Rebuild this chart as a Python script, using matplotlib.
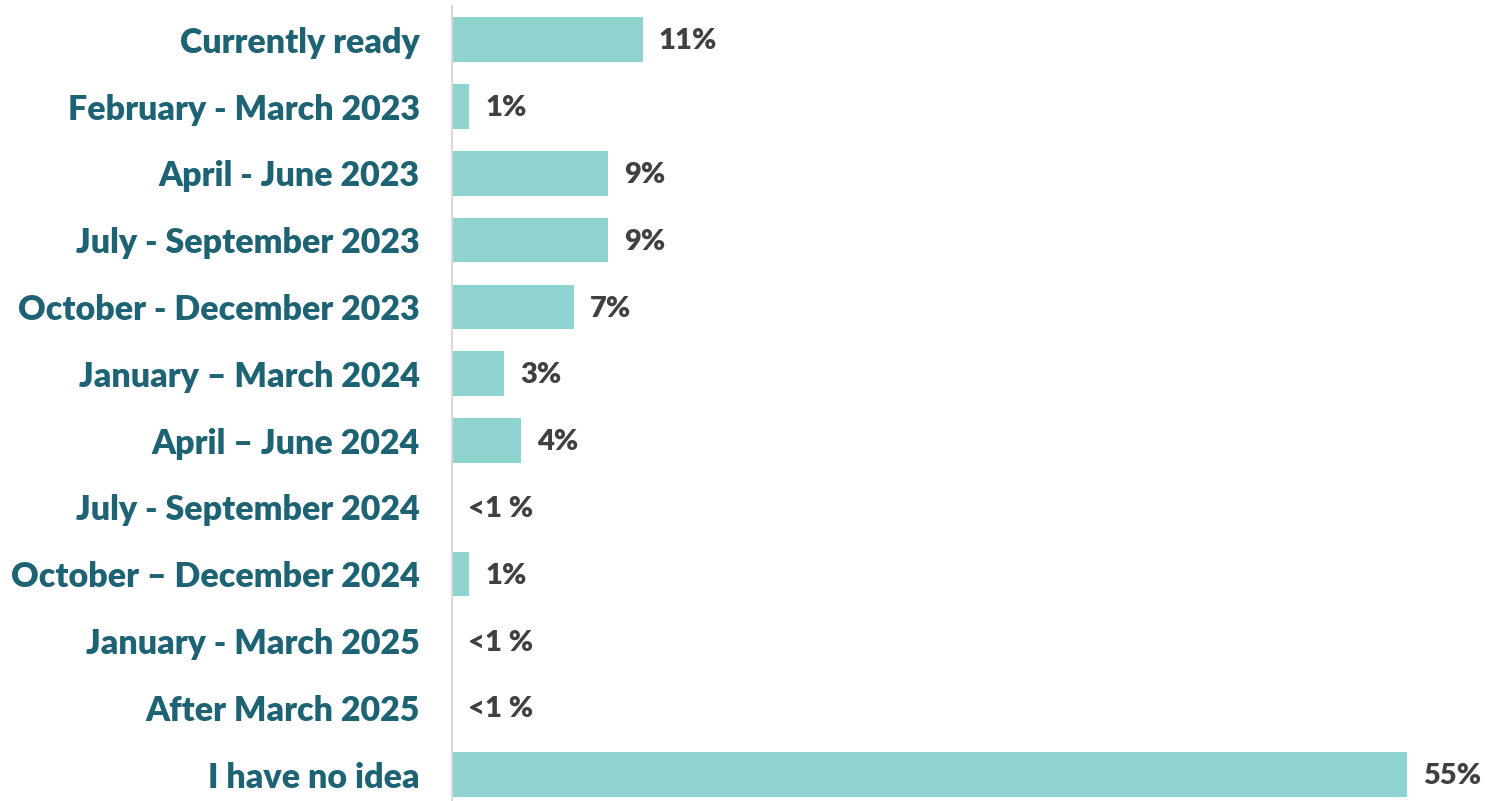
import matplotlib.pyplot as plt

# ── Data ────────────────────────────────────────────────────────────────────
categories = [
    "Currently ready",
    "February - March 2023",
    "April - June 2023",
    "July - September 2023",
    "October - December 2023",
    "January \u2013 March 2024",
    "April \u2013 June 2024",
    "July - September 2024",
    "October \u2013 December 2024",
    "January - March 2025",
    "After March 2025",
    "I have no idea",
]
values = [11, 1, 9, 9, 7, 3, 4, 0, 1, 0, 0, 55]
value_labels = ["11%", "1%", "9%", "9%", "7%", "3%", "4%", "<1 %", "1%", "<1 %", "<1 %", "55%"]

BAR_COLOR = "#8fd3d1"
LABEL_COLOR = "#1e6374"
VALUE_COLOR = "#404040"

plt.rcParams["font.family"] = ["Lato", "DejaVu Sans"]

# ── Figure ──────────────────────────────────────────────────────────────────
W, H = 1506, 801
fig = plt.figure(figsize=(W / 100, H / 100), dpi=100)
left, right, top, bottom = 452, 1407, 6.3, 808
ax = fig.add_axes([left / W, 1 - bottom / H, (right - left) / W, (bottom - top) / H])

y = range(len(categories))
ax.barh(y, values, height=0.666, color=BAR_COLOR)
ax.set_xlim(0, 55)
ax.set_ylim(len(categories) - 0.5, -0.5)

for yi, v, lab in zip(y, values, value_labels):
    ax.annotate(lab, (v, yi), xytext=(11.5, -1.2), textcoords="offset points",
                ha="left", va="center", fontsize=21, fontweight="heavy",
                color=VALUE_COLOR, annotation_clip=False)

ax.set_yticks(list(y))
ax.set_yticklabels(categories, fontsize=24.5, fontweight="heavy", color=LABEL_COLOR)
ax.tick_params(axis="y", length=0, pad=23)
ax.set_xticks([])

for s in ["top", "right", "bottom"]:
    ax.spines[s].set_visible(False)
ax.spines["left"].set_color("#d9d9d9")
ax.spines["left"].set_linewidth(1.5)

plt.savefig("out.png", dpi=100)
